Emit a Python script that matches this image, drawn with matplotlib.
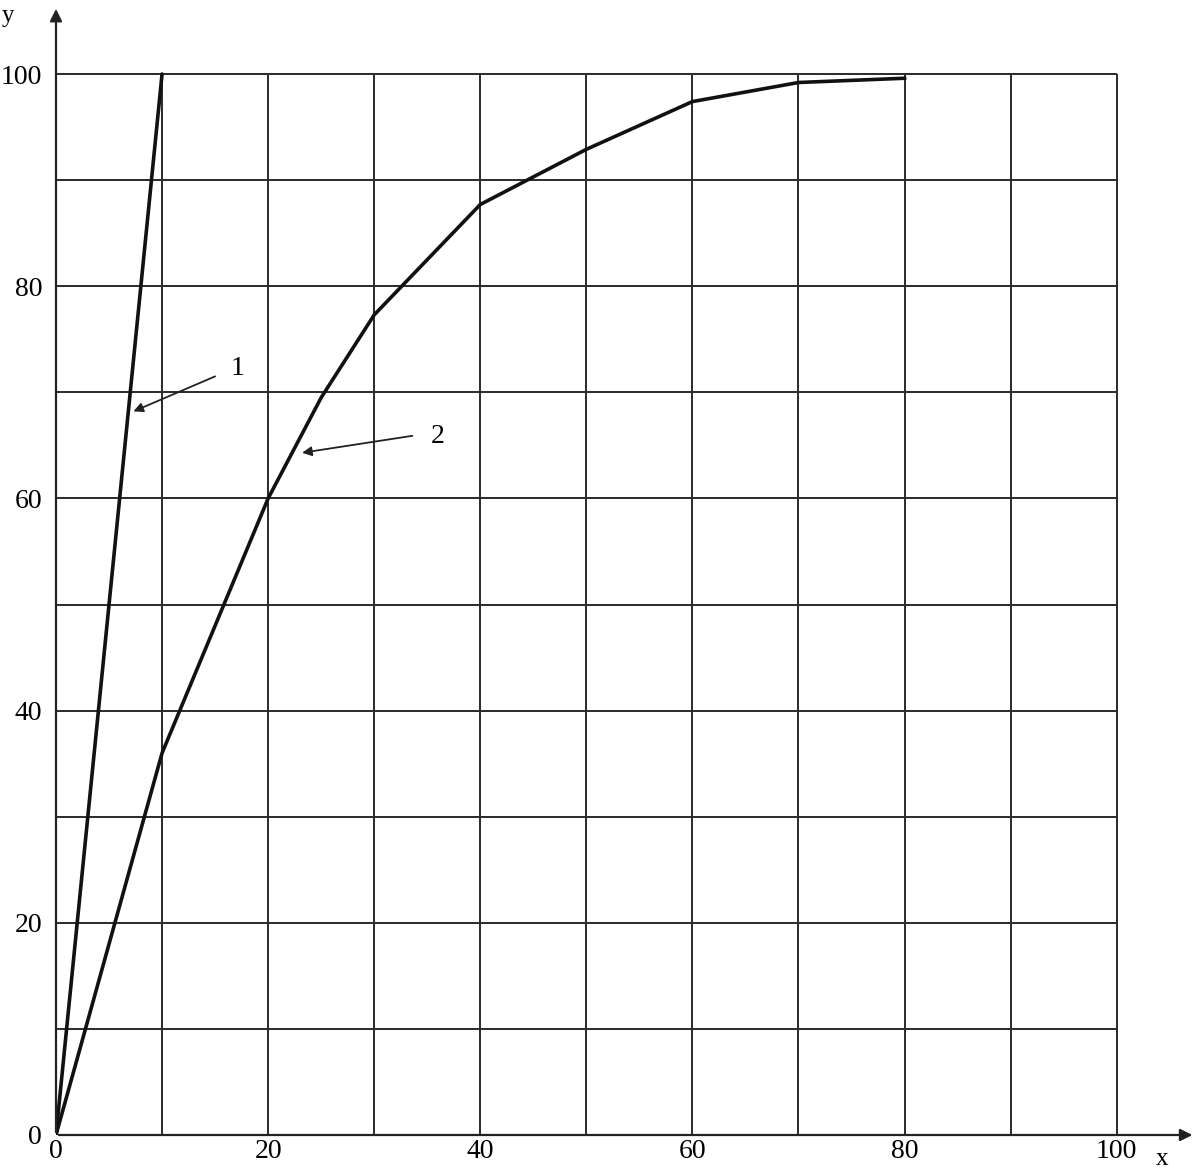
import numpy as np
import matplotlib.pyplot as plt

# curve 1 and curve 2
x1 = [0, 10]
y1 = [0, 100]
x2 = [0, 10, 20, 25, 30, 40, 50, 60, 70, 80]
y2 = [0, 36, 60, 69.5, 77.3, 87.7, 92.9, 97.4, 99.2, 99.6]

ticks = [0, 20, 40, 60, 80, 100]
grid_pos = np.arange(10, 101, 10)

plt.rcParams['font.family'] = ['Liberation Serif', 'DejaVu Serif']

fig = plt.figure(figsize=(11.99, 11.73), dpi=100)
ax = fig.add_axes([0.0467, 0.0324, 0.951, 0.9633])
ax.set_xlim(0, 107.5)
ax.set_ylim(0, 106.5)
for s in ax.spines.values():
    s.set_visible(False)

# grid, only inside the 0..100 square
ax.vlines(grid_pos, 0, 100, color='#2a2a2a', lw=1.4)
ax.hlines(grid_pos, 0, 100, color='#2a2a2a', lw=1.4)

# axes with arrows
ax.annotate('', xy=(107.4, 0), xytext=(0, 0),
            arrowprops=dict(arrowstyle='-|>', color='#222', lw=1.6, mutation_scale=18))
ax.annotate('', xy=(0, 106.4), xytext=(0, 0),
            arrowprops=dict(arrowstyle='-|>', color='#222', lw=1.6, mutation_scale=18))

ax.plot(x1, y1, color='#111', lw=2.6, solid_capstyle='round')
ax.plot(x2, y2, color='#111', lw=2.6, solid_joinstyle='round')

# leader arrows to the curves
arrow = dict(arrowstyle='-|>', color='#222', lw=1.3, mutation_scale=14, shrinkA=0, shrinkB=0)
ax.annotate('', xy=(7.3, 68.2), xytext=(15.0, 71.5), arrowprops=arrow)
ax.annotate('', xy=(23.2, 64.3), xytext=(33.6, 65.9), arrowprops=arrow)
ax.text(17.1, 72.2, '1', fontsize=20, ha='center', va='center')
ax.text(36.0, 65.8, '2', fontsize=20, ha='center', va='center')

ax.set_xticks(ticks)
ax.set_yticks(ticks)
ax.tick_params(length=0, labelsize=20, pad=10)
ax.tick_params(axis='x', pad=3)

ax.text(-4.5, 106.5, 'y', fontsize=18, ha='center', va='top', clip_on=False)
ax.text(104.3, -1.2, 'x', fontsize=18, ha='center', va='top', clip_on=False)

fig.savefig('out.png', dpi=100)
